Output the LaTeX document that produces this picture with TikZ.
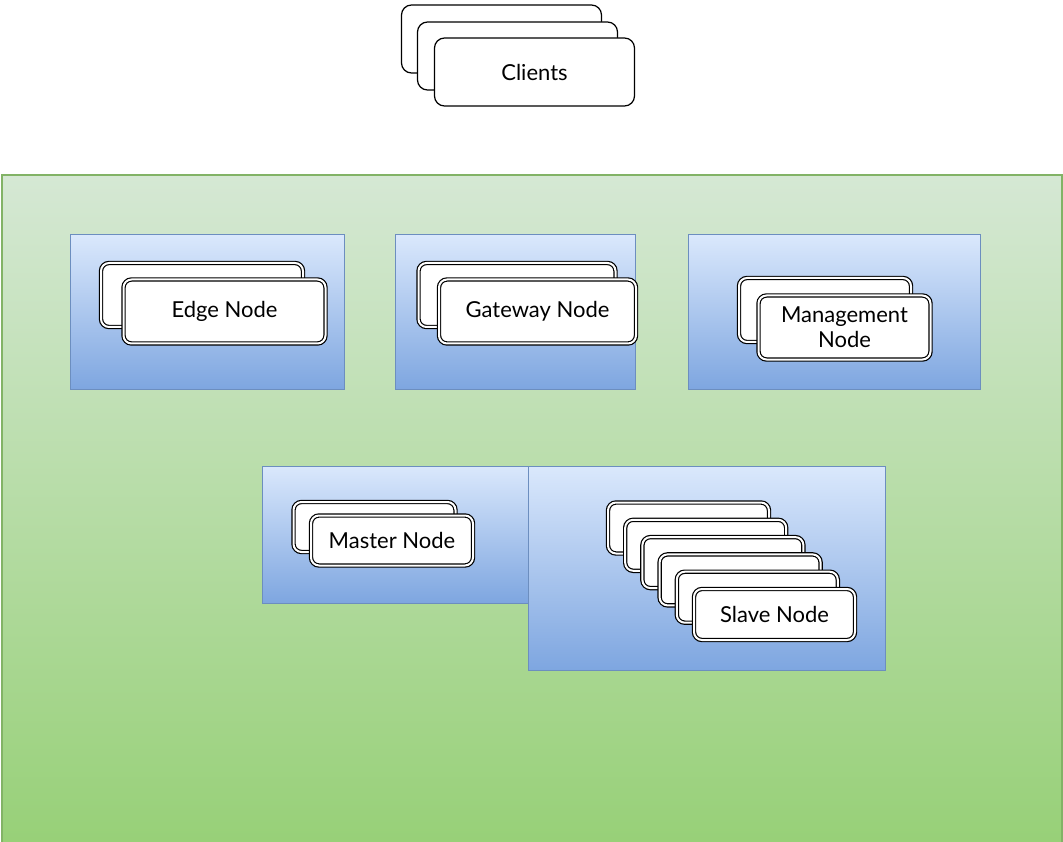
\documentclass[tikz,border=0pt]{standalone}
\usepackage{fontspec}
\setmainfont{Lato}
\usepackage{tikz}

\definecolor{greentop}{HTML}{D5E8D4}
\definecolor{greenbot}{HTML}{97D077}
\definecolor{greenline}{HTML}{82B366}
\definecolor{bluetop}{HTML}{DAE8FC}
\definecolor{bluebot}{HTML}{7EA6E0}
\definecolor{blueline}{HTML}{6C8EBF}

\tikzset{
	zone/.style={draw=greenline, line width=1.2pt, top color=greentop, bottom color=greenbot, inner sep=0pt},
	panel/.style={draw=blueline, line width=1pt, top color=bluetop, bottom color=bluebot, inner sep=0pt},
	hostbox/.style={draw=black, line width=1.2pt, double=white, double distance=2pt, fill=white,
		rounded corners=8pt, inner sep=0pt, align=center, font=\fontsize{22}{25}\selectfont},
	clientbox/.style={draw=black, line width=1.2pt, fill=white, rounded corners=10pt,
		minimum width=200pt, minimum height=68pt, inner sep=0pt, font=\fontsize{22}{25}\selectfont}
}

\begin{document}
\begin{tikzpicture}[x=1pt, y=-1pt]
		\useasboundingbox (0, 0) rectangle (1063, 842);

		\node[clientbox] (client0) at (501.5, 39) {};
		\node[clientbox] (client1) at (517.5, 56) {};
		\node[clientbox] (client2) at (534.5, 72) {Clients};

		\node[zone, minimum width=1060pt, minimum height=672pt] (cluster) at (532, 511) {};

		\node[panel, minimum width=274pt, minimum height=154pt] (edgepanel) at (207, 312) {};
		\node[panel, minimum width=240pt, minimum height=154pt] (gatewaypanel) at (515, 312) {};
		\node[panel, minimum width=292pt, minimum height=154pt] (mgmtpanel) at (834, 312) {};
		\node[panel, minimum width=266pt, minimum height=137pt] (masterpanel) at (395, 534.5) {};
		\node[panel, minimum width=357pt, minimum height=204pt] (slavepanel) at (706.5, 568) {};

		\node[hostbox, minimum width=202pt, minimum height=64pt] (edge0) at (202, 295) {};
		\node[hostbox, minimum width=202pt, minimum height=64pt] (edge1) at (224.5, 311.5) {Edge Node};

		\node[hostbox, minimum width=197pt, minimum height=64pt] (gateway0) at (517, 295) {};
		\node[hostbox, minimum width=197pt, minimum height=64pt] (gateway1) at (537.5, 311.5) {Gateway Node};

		\node[hostbox, minimum width=172pt, minimum height=64pt] (mgmt0) at (825, 310) {};
		\node[hostbox, minimum width=172pt, minimum height=64pt] (mgmt1) at (844.5, 327.5) {Management\\Node};

		\node[hostbox, minimum width=162pt, minimum height=50pt] (master0) at (374.5, 527) {};
		\node[hostbox, minimum width=162pt, minimum height=50pt] (master1) at (392, 540.5) {Master Node};

		\foreach \i in {0,...,4}
			\node[hostbox, minimum width=161pt, minimum height=51pt] (slave\i) at ({688.5+17.2*\i}, {528+17.3*\i}) {};
		\node[hostbox, minimum width=161pt, minimum height=51pt] (slave5) at (774.5, 614.5) {Slave Node};
	\end{tikzpicture}
\end{document}
